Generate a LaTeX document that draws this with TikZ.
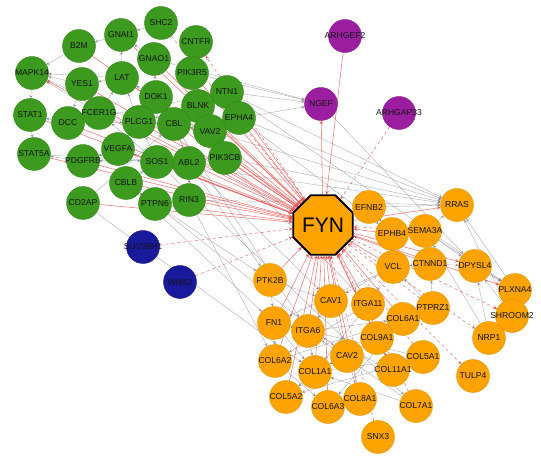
\documentclass[tikz,border=0pt]{standalone}
\usepackage{fontspec}
\setmainfont{Liberation Sans}
\usepackage{tikz}
\usetikzlibrary{shapes.geometric, arrows, backgrounds}
\definecolor{genegreen}{RGB}{60,154,30}
\definecolor{geneorange}{RGB}{255,163,0}
\definecolor{genepurple}{RGB}{155,30,160}
\definecolor{geneblue}{RGB}{25,25,155}
\definecolor{hubred}{RGB}{228,88,88}
\definecolor{linkgrey}{RGB}{135,135,148}
\tikzstyle{gene} = [circle, minimum size=33pt, inner sep=-12pt, line width=0.4pt, text=black!92, font=\fontsize{8.6}{9}\selectfont]
\tikzstyle{greennode} = [gene, fill=genegreen, draw=genegreen!85!black]
\tikzstyle{orangenode} = [gene, fill=geneorange, draw=geneorange!70!olive]
\tikzstyle{purplenode} = [gene, fill=genepurple, draw=genepurple!80!black]
\tikzstyle{bluenode} = [gene, fill=geneblue, draw=geneblue!80!black]
\tikzstyle{hubnode} = [regular polygon, regular polygon sides=8, minimum size=61pt, inner sep=0pt, fill=geneorange, draw=black, line width=1.8pt, font=\fontsize{21}{24}\selectfont]
\tikzstyle{hub} = [->, >=stealth, hubred, line width=0.6pt, draw opacity=0.75]
\tikzstyle{hubdash} = [hub, dashed]
\tikzstyle{link} = [->, >=stealth, linkgrey, line width=0.35pt, draw opacity=0.75]

\begin{document}
\begin{tikzpicture}[x=1pt, y=-1pt]
    \useasboundingbox (0,0) rectangle (541,462);

        % nodes
        \node (shc2) [greennode] at (161,23) {SHC2};
        \node (gnai1) [greennode] at (121,35) {GNAI1};
        \node (b2m) [greennode] at (79,46) {B2M};
        \node (cntfr) [greennode] at (196,42) {CNTFR};
        \node (gnao1) [greennode] at (154,59) {GNAO1};
        \node (pik3r5) [greennode] at (192,73) {PIK3R5};
        \node (mapk14) [greennode] at (32,73) {MAPK14};
        \node (lat) [greennode] at (122,78) {LAT};
        \node (yes1) [greennode] at (82,84) {YES1};
        \node (ntn1) [greennode] at (227,92) {NTN1};
        \node (dok1) [greennode] at (156,97) {DOK1};
        \node (blnk) [greennode] at (198,106) {BLNK};
        \node (stat1) [greennode] at (30,115) {STAT1};
        \node (epha4) [greennode] at (239,118) {EPHA4};
        \node (dcc) [greennode] at (68,123) {DCC};
        \node (fcer1g) [greennode] at (99,113) {FCER1G};
        \node (plcg1) [greennode] at (139,122) {PLCG1};
        \node (cbl) [greennode] at (174,124) {CBL};
        \node (vav2) [greennode] at (210,131) {VAV2};
        \node (stat5a) [greennode] at (34,154) {STAT5A};
        \node (vegfa) [greennode] at (118,149) {VEGFA};
        \node (pdgfrb) [greennode] at (83,161) {PDGFRB};
        \node (sos1) [greennode] at (157,162) {SOS1};
        \node (abl2) [greennode] at (189,163) {ABL2};
        \node (pik3cb) [greennode] at (225,158) {PIK3CB};
        \node (cblb) [greennode] at (126,183) {CBLB};
        \node (cd2ap) [greennode] at (83,203) {CD2AP};
        \node (ptpn6) [greennode] at (155,204) {PTPN6};
        \node (rin3) [greennode] at (189,200) {RIN3};
        \node (suv39h1) [bluenode] at (143,247) {SUV39H1};
        \node (wnk2) [bluenode] at (180,282) {WNK2};
        \node (arhgef2) [purplenode] at (345,36) {ARHGEF2};
        \node (ngef) [purplenode] at (321,104) {NGEF};
        \node (arhgap33) [purplenode] at (399,113) {ARHGAP33};
        \node (fyn) [hubnode] at (323,225) {FYN};
        \node (efnb2) [orangenode] at (369,207) {EFNB2};
        \node (rras) [orangenode] at (457,205) {RRAS};
        \node (ephb4) [orangenode] at (392,234) {EPHB4};
        \node (sema3a) [orangenode] at (425,231) {SEMA3A};
        \node (vcl) [orangenode] at (393,267) {VCL};
        \node (ctnnd1) [orangenode] at (430,264) {CTNND1};
        \node (dpysl4) [orangenode] at (475,266) {DPYSL4};
        \node (ptk2b) [orangenode] at (270,280) {PTK2B};
        \node (plxna4) [orangenode] at (515,290) {PLXNA4};
        \node (cav1) [orangenode] at (331,301) {CAV1};
        \node (itga11) [orangenode] at (368,304) {ITGA11};
        \node (ptprz1) [orangenode] at (433,308) {PTPRZ1};
        \node (shroom2) [orangenode] at (512,316) {SHROOM2};
        \node (fn1) [orangenode] at (274,323) {FN1};
        \node (col6a1) [orangenode] at (403,319) {COL6A1};
        \node (itga6) [orangenode] at (308,331) {ITGA6};
        \node (nrp1) [orangenode] at (489,338) {NRP1};
        \node (col9a1) [orangenode] at (377,338) {COL9A1};
        \node (cav2) [orangenode] at (347,356) {CAV2};
        \node (col5a1) [orangenode] at (423,357) {COL5A1};
        \node (col6a2) [orangenode] at (275,361) {COL6A2};
        \node (col1a1) [orangenode] at (315,372) {COL1A1};
        \node (col11a1) [orangenode] at (393,370) {COL11A1};
        \node (tulp4) [orangenode] at (473,376) {TULP4};
        \node (col5a2) [orangenode] at (286,397) {COL5A2};
        \node (col8a1) [orangenode] at (360,399) {COL8A1};
        \node (col6a3) [orangenode] at (328,407) {COL6A3};
        \node (col7a1) [orangenode] at (416,406) {COL7A1};
        \node (snx3) [orangenode] at (378,437) {SNX3};

        % edges
        \begin{scope}[on background layer]
        % grey links, green group
        \draw [link] (b2m) -- (mapk14);
        \draw [link] (gnai1) -- (b2m);
        \draw [link] (shc2) -- (gnai1);
        \draw [link] (lat) -- (gnai1);
        \draw [link] (gnao1) -- (gnai1);
        \draw [link] (yes1) -- (mapk14);
        \draw [link] (lat) -- (mapk14);
        \draw [link] (fcer1g) -- (mapk14);
        \draw [link] (plcg1) -- (mapk14);
        \draw [link] (mapk14) -- (stat1);
        \draw [link] (stat1) -- (stat5a);
        \draw [link] (dcc) -- (stat1);
        \draw [link] (pdgfrb) -- (stat5a);
        \draw [link] (lat) -- (yes1);
        \draw [link] (fcer1g) -- (yes1);
        \draw [link] (dok1) -- (lat);
        \draw [link] (plcg1) -- (lat);
        \draw [link] (fcer1g) -- (lat);
        \draw [link] (plcg1) -- (dok1);
        \draw [link] (cbl) -- (dok1);
        \draw [link] (blnk) -- (cbl);
        \draw [link] (blnk) -- (plcg1);
        \draw [link] (cbl) -- (plcg1);
        \draw [link] (vegfa) -- (plcg1);
        \draw [link] (abl2) -- (sos1);
        \draw [link] (cblb) -- (sos1);
        \draw [link] (sos1) -- (plcg1);
        \draw [link] (ptpn6) -- (cblb);
        \draw [link] (vav2) -- (cbl);
        \draw [link] (pik3cb) -- (vav2);
        \draw [link] (rin3) -- (abl2);
        \draw [link] (vegfa) -- (pdgfrb);
        \draw [link] (pik3cb) -- (pdgfrb);
        \draw [link] (cd2ap) -- (cbl);
        \draw [link] (sos1) -- (vegfa);
        \draw [link] (dcc) -- (plcg1);
        \draw [link] (pik3r5) -- (cntfr);
        \draw [link] (pik3cb) -- (pik3r5);
        \draw [link] (sos1) -- (fcer1g);
        \draw [link] (stat5a) -- (sos1);
        \draw [link] (ntn1) -- (dcc);
        \draw [link] (ntn1) -- (ngef);
        \draw [link] (epha4) -- (ngef);
        \draw [link] (pik3r5) -- (ngef);
        \draw [link] (gnao1) -- (ngef);
        \draw [link] (dok1) -- (gnao1);
        \draw [link] (blnk) -- (pik3r5);
        \draw [link] (yes1) -- (dcc);
        \draw [link] (cbl) -- (abl2);
        % grey links, between the groups
        \draw [link] (ptpn6) -- (ptk2b);
        \draw [link] (cblb) -- (fn1);
        \draw [link] (rin3) -- (rras);
        \draw [link] (epha4) -- (rras);
        \draw [link] (ntn1) -- (rras);
        \draw [link] (pik3cb) -- (rras);
        \draw [link] (sos1) -- (rras);
        \draw [link] (vav2) -- (rras);
        \draw [link] (cbl) -- (itga6);
        \draw [link] (ptpn6) -- (cav2);
        \draw [link] (cd2ap) -- (col1a1);
        \draw [link] (abl2) -- (cav1);
        \draw [link] (ngef) -- (dpysl4);
        \draw [link] (epha4) -- (ephb4);
        \draw [link] (pik3cb) -- (itga11);
        \draw [link] (rin3) -- (col6a2);
        \draw [link] (sos1) -- (col7a1);
        \draw [link] (abl2) -- (ptk2b);
        \draw [link] (ntn1) -- (plxna4);
        % grey links, orange group
        \draw [link] (efnb2) -- (ephb4);
        \draw [link] (efnb2) -- (rras);
        \draw [link] (ephb4) -- (sema3a);
        \draw [link] (sema3a) -- (rras);
        \draw [link] (sema3a) -- (dpysl4);
        \draw [link] (sema3a) -- (plxna4);
        \draw [link] (nrp1) -- (sema3a);
        \draw [link] (ctnnd1) -- (vcl);
        \draw [link] (ctnnd1) -- (dpysl4);
        \draw [link] (dpysl4) -- (plxna4);
        \draw [link] (plxna4) -- (nrp1);
        \draw [link] (plxna4) -- (rras);
        \draw [link] (shroom2) -- (rras);
        \draw [link] (nrp1) -- (dpysl4);
        \draw [link] (vcl) -- (itga11);
        \draw [link] (vcl) -- (cav1);
        \draw [link] (vcl) -- (fn1);
        \draw [link] (cav1) -- (itga6);
        \draw [link] (cav1) -- (cav2);
        \draw [link] (itga11) -- (col1a1);
        \draw [link] (itga6) -- (fn1);
        \draw [link] (itga6) -- (col6a1);
        \draw [link] (itga6) -- (col1a1);
        \draw [link] (fn1) -- (col1a1);
        \draw [link] (fn1) -- (col6a2);
        \draw [link] (col6a2) -- (col6a1);
        \draw [link] (col6a2) -- (col6a3);
        \draw [link] (col6a1) -- (col6a3);
        \draw [link] (col1a1) -- (col5a2);
        \draw [link] (col1a1) -- (col5a1);
        \draw [link] (col5a1) -- (col5a2);
        \draw [link] (col11a1) -- (col5a1);
        \draw [link] (col11a1) -- (col9a1);
        \draw [link] (col9a1) -- (col6a1);
        \draw [link] (col8a1) -- (col6a3);
        \draw [link] (col7a1) -- (col1a1);
        \draw [link] (col7a1) -- (itga6);
        \draw [link] (cav2) -- (col8a1);
        \draw [link] (ptk2b) -- (fn1);
        \draw [link] (ptk2b) -- (cav1);
        \draw [link] (ptprz1) -- (ctnnd1);
        \draw [link] (ptprz1) -- (vcl);
        \draw [link] (col9a1) -- (col1a1);
        \draw [link] (itga11) -- (col6a2);
        \draw [link] (shroom2) -- (dpysl4);
        \draw [link] (col5a1) -- (fn1);
        \draw [link] (col11a1) -- (itga6);
        % red links to and from FYN
        \draw [hub] (gnai1) -- (fyn);
        \draw [hub] (b2m) -- (fyn);
        \draw [hub] (gnao1) -- (fyn);
        \draw [hub] (pik3r5) -- (fyn);
        \draw [hub] (yes1) -- (fyn);
        \draw [hub] (lat) -- (fyn);
        \draw [hub] (dok1) -- (fyn);
        \draw [hub] (ntn1) -- (fyn);
        \draw [hub] (blnk) -- (fyn);
        \draw [hub] (fcer1g) -- (fyn);
        \draw [hub] (stat1) -- (fyn);
        \draw [hub] (dcc) -- (fyn);
        \draw [hub] (plcg1) -- (fyn);
        \draw [hub] (cbl) -- (fyn);
        \draw [hub] (epha4) -- (fyn);
        \draw [hub] (vav2) -- (fyn);
        \draw [hub] (stat5a) -- (fyn);
        \draw [hub] (pdgfrb) -- (fyn);
        \draw [hub] (vegfa) -- (fyn);
        \draw [hub] (sos1) -- (fyn);
        \draw [hub] (abl2) -- (fyn);
        \draw [hub] (pik3cb) -- (fyn);
        \draw [hub] (cblb) -- (fyn);
        \draw [hub] (cd2ap) -- (fyn);
        \draw [hub] (ptpn6) -- (fyn);
        \draw [hub] (rin3) -- (fyn);
        \draw [hub] (arhgef2) -- (fyn);
        \draw [hub] (efnb2) -- (fyn);
        \draw [hub] (ephb4) -- (fyn);
        \draw [hub] (vcl) -- (fyn);
        \draw [hub] (ptk2b) -- (fyn);
        \draw [hub] (cav1) -- (fyn);
        \draw [hub] (itga11) -- (fyn);
        \draw [hub] (fn1) -- (fyn);
        \draw [hub] (itga6) -- (fyn);
        \draw [hub] (col9a1) -- (fyn);
        \draw [hub] (cav2) -- (fyn);
        \draw [hub] (col1a1) -- (fyn);
        \draw [hub] (col6a2) -- (fyn);
        \draw [hub] (col5a2) -- (fyn);
        \draw [hub] (col6a3) -- (fyn);
        \draw [hub] (col8a1) -- (fyn);
        \draw [hub] (col6a1) -- (fyn);
        \draw [hub] (ctnnd1) -- (fyn);
        \draw [hub] (col11a1) -- (fyn);
        \draw [hub] (fyn) -- (mapk14);
        \draw [hub] (fyn) -- (ngef);
        \draw [hub] (fyn) -- (dpysl4);
        \draw [hub] (fyn) -- (plxna4);
        \draw [hub] (fyn) -- (rras);
        \draw [hubdash] (shc2) -- (fyn);
        \draw [hubdash] (fyn) -- (cntfr);
        \draw [hubdash] (arhgap33) -- (fyn);
        \draw [hubdash] (suv39h1) -- (fyn);
        \draw [hubdash] (wnk2) -- (fyn);
        \draw [hubdash] (fyn) -- (tulp4);
        \draw [hubdash] (fyn) -- (nrp1);
        \draw [hubdash] (sema3a) -- (fyn);
        \draw [hubdash] (ptprz1) -- (fyn);
        \draw [hubdash] (col5a1) -- (fyn);
        \draw [hubdash] (col7a1) -- (fyn);
        \draw [hubdash] (snx3) -- (fyn);
        \draw [hubdash] (fyn) -- (shroom2);
        \end{scope}

    \end{tikzpicture}
\end{document}
